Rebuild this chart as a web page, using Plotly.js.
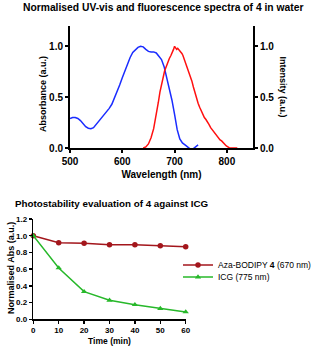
<!DOCTYPE html>
<html>
<head>
<meta charset="utf-8">
<script src="https://cdn.plot.ly/plotly-3.0.1.min.js"></script>
<style>
  html, body { margin: 0; padding: 0; background: #fff; }
  #chart { width: 325px; height: 346px; }
</style>
</head>
<body>
<div id="chart"></div>
<script>
// Espectro de absorção (azul)
const absWl = [500, 505, 510, 515, 520, 525, 530, 535, 540, 545, 550, 555, 560, 565, 570, 575, 580, 585, 590, 595,
  600, 605, 610, 615, 620, 625, 630, 635, 640, 645, 650, 655, 660, 665, 670, 675, 680, 685, 690, 695,
  700, 705, 710, 715, 720, 725, 730, 735, 740, 745];
const absVal = [0.29, 0.30, 0.30, 0.29, 0.27, 0.24, 0.21, 0.195, 0.19, 0.20, 0.23, 0.26, 0.29, 0.32, 0.35, 0.39, 0.43, 0.49, 0.55, 0.62,
  0.69, 0.76, 0.83, 0.89, 0.94, 0.97, 0.99, 1.0, 0.995, 0.97, 0.95, 0.945, 0.945, 0.935, 0.90, 0.87, 0.80, 0.69, 0.59, 0.47,
  0.33, 0.18, 0.09, 0.05, 0.03, 0.01, -0.01, -0.01, 0.01, 0.03];

// Espectro de fluorescência (vermelho)
const emWl = [640, 645, 650, 655, 660, 663, 666, 669, 672, 675, 678, 681, 684, 687, 690, 693, 696, 698, 700, 702,
  704, 706, 708, 710, 712, 714, 716, 718, 720, 722, 724, 726, 728, 730, 733, 736, 739, 742, 745, 748,
  751, 754, 757, 760, 763, 766, 769, 772, 775, 778, 781, 784, 787, 790, 793, 796, 799, 802, 805, 810, 815, 820];
const emVal = [0.0, 0.01, 0.04, 0.10, 0.19, 0.27, 0.36, 0.45, 0.55, 0.63, 0.70, 0.76, 0.80, 0.85, 0.88, 0.91, 0.94, 0.97, 1.0, 0.99,
  0.97, 0.98, 0.97, 0.96, 0.95, 0.93, 0.91, 0.88, 0.86, 0.84, 0.80, 0.77, 0.73, 0.70, 0.66, 0.60, 0.54, 0.48, 0.44, 0.40,
  0.36, 0.32, 0.30, 0.28, 0.26, 0.23, 0.20, 0.18, 0.16, 0.13, 0.12, 0.10, 0.08, 0.07, 0.05, 0.03, 0.02, 0.01, 0.0, 0.0, 0.0, 0.0];

// Fotoestabilidade
const timeMin = [0, 10, 20, 30, 40, 50, 60];
const azaAbs = [1.0, 0.917, 0.909, 0.893, 0.893, 0.881, 0.869];
const icgAbs = [1.0, 0.614, 0.331, 0.227, 0.175, 0.128, 0.088];

const W = 325, H = 346;
const px = (v) => v / W;
const py = (v) => 1 - v / H;

const BOLD = "Liberation Sans, Arial, sans-serif";
const darkRed = "#a3161c";
const green = "#27b82a";

const traces = [
  { x: absWl, y: absVal, mode: "lines", xaxis: "x", yaxis: "y", showlegend: false,
    line: { color: "#1a2cff", width: 1.5 }, hoverinfo: "none" },
  { x: emWl, y: emVal, mode: "lines", xaxis: "x", yaxis: "y2", showlegend: false,
    line: { color: "#ff1010", width: 1.5 }, hoverinfo: "none" },
  { x: timeMin, y: azaAbs, mode: "lines+markers", xaxis: "x3", yaxis: "y3", legend: "legend",
    name: "Aza-BODIPY <b>4</b> (670 nm)", cliponaxis: false,
    line: { color: darkRed, width: 1.5 }, marker: { color: darkRed, symbol: "circle", size: 5.5 } },
  { x: timeMin, y: icgAbs, mode: "lines+markers", xaxis: "x3", yaxis: "y3", legend: "legend2",
    name: "ICG (775 nm)", cliponaxis: false,
    line: { color: green, width: 1.5 }, marker: { color: green, symbol: "triangle-up", size: 5.5 } },
];

const axBase = {
  showline: true, linecolor: "#000", showgrid: false, zeroline: false,
  ticks: "outside", tickcolor: "#000", fixedrange: true, automargin: false,
};
const topTickFont = { family: BOLD, size: 10, color: "#000", weight: "bold" };
const botTickFont = { family: BOLD, size: 8, color: "#000", weight: "bold" };
const legendFont = { family: BOLD, size: 8.5, color: "#000" };

const layout = {
  width: W, height: H,
  margin: { l: 0, r: 0, t: 0, b: 0, autoexpand: false },
  paper_bgcolor: "#fff", plot_bgcolor: "#fff",
  font: { family: BOLD, color: "#000" },
  xaxis: { ...axBase, domain: [px(70), px(253)], anchor: "y", range: [500, 850],
    tickvals: [500, 600, 700, 800], linewidth: 2, tickwidth: 2, ticklen: 3, tickfont: topTickFont,
    title: { text: "<b>Wavelength (nm)</b>", font: { family: BOLD, size: 10 }, standoff: 5 } },
  yaxis: { ...axBase, domain: [py(148), py(26)], anchor: "x", range: [0, 1.2],
    tickvals: [0, 0.5, 1.0], tickformat: ".1f", linewidth: 2, tickwidth: 2, ticklen: 3, tickfont: topTickFont },
  yaxis2: { ...axBase, overlaying: "y", side: "right", anchor: "x", range: [0, 1.2],
    tickvals: [0, 0.5, 1.0], tickformat: ".1f", linewidth: 2, tickwidth: 2, ticklen: 3, tickfont: topTickFont },
  xaxis3: { ...axBase, domain: [px(33.3), px(185.7)], anchor: "y3", range: [0, 60],
    dtick: 10, linewidth: 1.5, tickwidth: 1.5, ticklen: 3, tickfont: botTickFont,
    title: { text: "<b>Time (min)</b>", font: { family: BOLD, size: 8.5 }, standoff: 3 } },
  yaxis3: { ...axBase, domain: [py(319.3), py(219)], anchor: "x3", range: [0, 1.2],
    dtick: 0.2, tickformat: ".1f", linewidth: 1.5, tickwidth: 1.5, ticklen: 3, tickfont: botTickFont },
  showlegend: true,
  legend: { x: px(178), y: py(265), xanchor: "left", yanchor: "middle", bgcolor: "rgba(0,0,0,0)",
    font: legendFont, itemwidth: 30 },
  legend2: { x: px(178), y: py(277), xanchor: "left", yanchor: "middle", bgcolor: "rgba(0,0,0,0)",
    font: legendFont, itemwidth: 30 },
  annotations: [
    { text: "<b>Normalised UV-vis and fluorescence spectra of 4 in water</b>", xref: "paper", yref: "paper",
      x: px(162.5), y: py(8), xanchor: "center", yanchor: "middle", showarrow: false,
      font: { family: BOLD, size: 10.3, color: "#000" } },
    { text: "<b>Photostability evaluation of 4 against ICG</b>", xref: "paper", yref: "paper",
      x: px(13), y: py(203), xanchor: "left", yanchor: "middle", showarrow: false,
      font: { family: BOLD, size: 9.8, color: "#000" } },
    { text: "<b>Absorbance (a.u.)</b>", xref: "paper", yref: "paper", textangle: -90,
      x: px(43), y: py(94), xanchor: "center", yanchor: "middle", showarrow: false,
      font: { family: BOLD, size: 9, color: "#000" } },
    { text: "<b>Intensity (a.u.)</b>", xref: "paper", yref: "paper", textangle: 90,
      x: px(282.5), y: py(87), xanchor: "center", yanchor: "middle", showarrow: false,
      font: { family: BOLD, size: 9, color: "#000" } },
    { text: "<b>Normalised Abs (a.u.)</b>", xref: "paper", yref: "paper", textangle: -90,
      x: px(11), y: py(268), xanchor: "center", yanchor: "middle", showarrow: false,
      font: { family: BOLD, size: 9, color: "#000" } },
  ],
};

Plotly.newPlot("chart", traces, layout, { staticPlot: true, displayModeBar: false });
</script>
</body>
</html>
